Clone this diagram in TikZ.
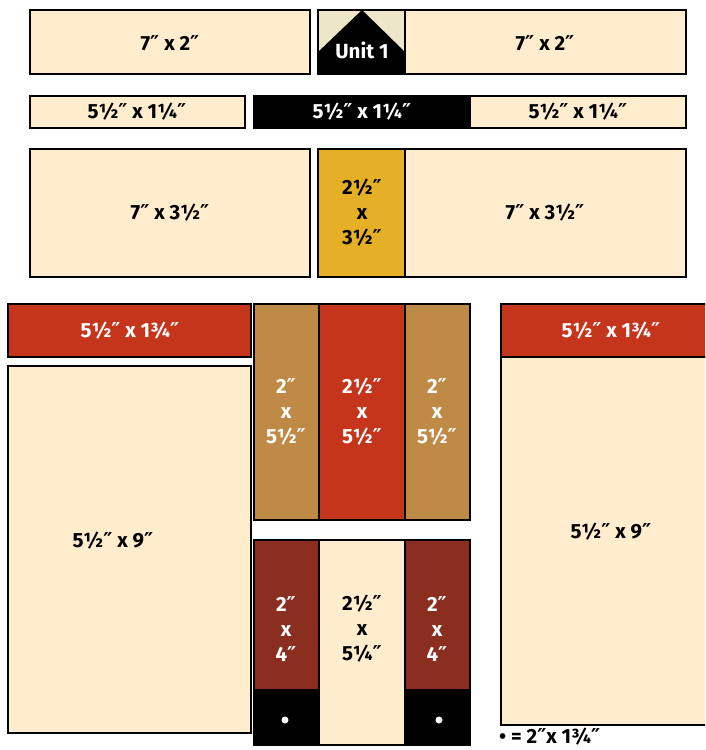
\documentclass[tikz,border=0pt]{standalone}
\usepackage{fontspec}
\setmainfont{Fira Sans}
\newfontfamily\primefont{DejaVu Sans}
\newcommand{\inch}{{\primefont\bfseries ″}}
\definecolor{cream}{HTML}{FFEDCD}
\definecolor{paleunit}{HTML}{EEE6C9}
\definecolor{gold}{HTML}{E5B026}
\definecolor{brick}{HTML}{C4351C}
\definecolor{tan}{HTML}{BE8A45}
\definecolor{rust}{HTML}{8A2E1F}
\tikzset{
  piece/.style={draw=black, line width=1.1pt},
  dark/.style={font=\fontsize{20.5}{25}\selectfont\bfseries, text=black, align=center},
  light/.style={font=\fontsize{20.5}{25}\selectfont\bfseries, text=white, align=center},
}
\begin{document}
\begin{tikzpicture}[x=1pt,y=-1pt]
\useasboundingbox (0,0) rectangle (705,750);
\clip (0,0) rectangle (705,750);

\draw[piece, fill=cream] (30,10) rectangle (310,74);
\draw[piece, fill=paleunit] (318,10) rectangle (405,74);
\fill[black] (318,74) -- (318,52) -- (362,10) -- (405,52) -- (405,74) -- cycle;
\draw[piece] (318,10) rectangle (405,74);
\draw[piece, fill=cream] (405,10) rectangle (686,74);
\node[dark] (r1a) at (170,43) {7\inch{} x 2\inch};
\node[light] (unit) at (362,50) {Unit 1};
\node[dark] (r1b) at (545,43) {7\inch{} x 2\inch};

\draw[piece, fill=cream] (30,96) rectangle (245,128);
\draw[piece, fill=black] (254,96) rectangle (470,128);
\draw[piece, fill=cream] (470,96) rectangle (686,128);
\node[dark] (r2a) at (137,112) {5½\inch{} x 1¼\inch};
\node[light] (r2b) at (362,112) {5½\inch{} x 1¼\inch};
\node[dark] (r2c) at (578,112) {5½\inch{} x 1¼\inch};

\draw[piece, fill=cream] (30,149) rectangle (310,277);
\draw[piece, fill=gold] (318,149) rectangle (405,277);
\draw[piece, fill=cream] (405,149) rectangle (686,277);
\node[dark] (r3a) at (170,213) {7\inch{} x 3½\inch};
\node[dark] (r3b) at (362,213) {2½\inch\\x\\3½\inch};
\node[dark] (r3c) at (545,213) {7\inch{} x 3½\inch};

\draw[piece, fill=brick] (8,304) rectangle (251,357);
\draw[piece, fill=cream] (8,366) rectangle (251,733);
\node[light] (lt) at (130,331) {5½\inch{} x 1¾\inch};
\node[dark] (lb) at (113,541) {5½\inch{} x 9\inch};

\draw[piece, fill=tan] (254,304) rectangle (319,520);
\draw[piece, fill=brick] (319,304) rectangle (405,520);
\draw[piece, fill=tan] (405,304) rectangle (470,520);
\node[light] (m1) at (286,412) {2\inch\\x\\5½\inch};
\node[light] (m2) at (362,412) {2½\inch\\x\\5½\inch};
\node[light] (m3) at (437,412) {2\inch\\x\\5½\inch};

\draw[piece, fill=rust] (254,540) rectangle (319,690);
\draw[piece, fill=black] (254,690) rectangle (319,745);
\draw[piece, fill=cream] (319,540) rectangle (405,745);
\draw[piece, fill=rust] (405,540) rectangle (470,690);
\draw[piece, fill=black] (405,690) rectangle (470,745);
\node[light] (b1) at (286,629) {2\inch\\x\\4\inch};
\node[dark] (b2) at (362,629) {2½\inch\\x\\5¼\inch};
\node[light] (b3) at (437,629) {2\inch\\x\\4\inch};
\fill[white] (285,720) circle (3.5);
\fill[white] (439,720) circle (3.5);

\draw[piece, fill=brick] (501,304) rectangle (712,357);
\draw[piece, fill=cream] (501,357) rectangle (712,725);
\node[light] (rt) at (611,331) {5½\inch{} x 1¾\inch};
\node[dark] (rb) at (611,532) {5½\inch{} x 9\inch};

\node[dark, anchor=base west, inner sep=0pt] (key) at (499,743) {• = 2\inch x 1¾\inch};
\end{tikzpicture}
\end{document}
